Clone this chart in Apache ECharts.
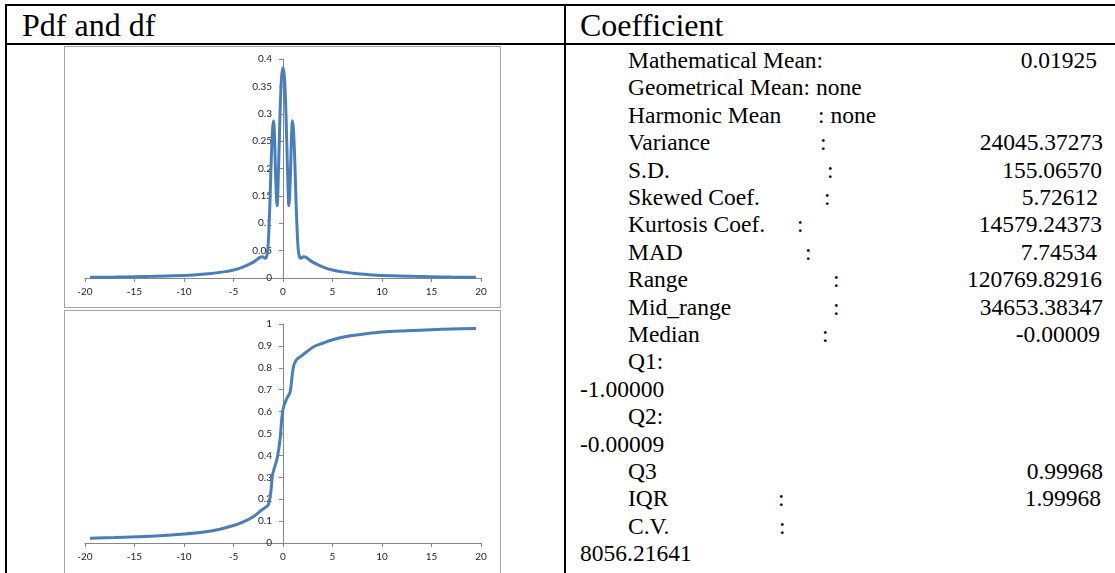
<!DOCTYPE html>
<html lang="en">
<head>
<meta charset="UTF-8">
<title>Pdf and df</title>
<script src="https://cdn.jsdelivr.net/npm/echarts@6/dist/echarts.min.js"></script>
<style>
  html, body { margin: 0; padding: 0; background: #fff; }
  body { width: 1115px; height: 573px; position: relative; overflow: hidden;
         font-family: "Liberation Serif", "Times New Roman", serif; color: #000; }
  .ln { position: absolute; background: #000; }
  .frame { position: absolute; border: 1px solid #a6a6a6; box-sizing: border-box; }
  .head { position: absolute; font-size: 32px; line-height: 36px; top: 7px; }
  .txt { position: absolute; font-size: 23.5px; line-height: 28px; white-space: pre; }
  .val { position: absolute; font-size: 23.5px; line-height: 28px; white-space: pre; text-align: right; }
  #main { position: absolute; left: 64px; top: 46px; width: 437px; height: 527px; }
</style>
</head>
<body>
<div class="ln" style="left:5px;top:4px;width:1110px;height:2px"></div>
<div class="ln" style="left:5px;top:43px;width:1110px;height:2px"></div>
<div class="ln" style="left:5px;top:4px;width:2px;height:569px"></div>
<div class="ln" style="left:564px;top:4px;width:2px;height:569px"></div>

<div class="head" style="left:22px">Pdf and df</div>
<div class="head" style="left:580px">Coefficient</div>

<div class="frame" style="left:64px;top:46px;width:437px;height:262px"></div>
<div class="frame" style="left:64px;top:310px;width:437px;height:270px"></div>
<div id="main"></div>
<div id="stats"></div>

<script>
// density (pdf)
var pdfX = [-19.5, -17, -15, -13, -11, -9, -7.5, -6, -5, -4.2, -3.5, -3, -2.6, -2.3, -2.05, -1.85, -1.7, -1.55, -1.42, -1.3, -1.18, -1.06, -0.96, -0.86, -0.75, -0.6, -0.45, -0.3, -0.15, 0,
            0.15, 0.3, 0.45, 0.6, 0.75, 0.86, 0.96, 1.06, 1.18, 1.3, 1.42, 1.55, 1.7, 1.85, 2.05, 2.3, 2.6, 3, 3.5, 4.2, 5, 6, 7.5, 9, 11, 13, 15, 17, 19.5];
var pdfY = [0.0012, 0.0017, 0.0023, 0.003, 0.004, 0.0057, 0.0078, 0.0112, 0.0145, 0.019, 0.0245, 0.029, 0.034, 0.038, 0.039, 0.036, 0.037, 0.05, 0.09, 0.15, 0.22, 0.27, 0.287, 0.26, 0.19, 0.132, 0.2, 0.3, 0.365, 0.384,
            0.365, 0.3, 0.2, 0.132, 0.19, 0.26, 0.287, 0.27, 0.22, 0.15, 0.09, 0.05, 0.037, 0.036, 0.039, 0.038, 0.034, 0.029, 0.0245, 0.019, 0.0145, 0.0112, 0.0078, 0.0057, 0.004, 0.003, 0.0023, 0.0017, 0.0012];

// distribution function (df)
var cdfX = [-19.5, -17, -15, -12.5, -10, -8, -6.5, -5, -4, -3, -2.3, -1.7, -1.47, -1.23, -1.06, -0.79, -0.56, -0.29, -0.12, 0.05, 0.39, 0.72, 0.89, 1.06, 1.33, 1.8, 2.4, 3.1, 4, 5, 6.5, 8, 10, 12.5, 15, 17, 19.5];
var cdfY = [0.022, 0.025, 0.028, 0.033, 0.041, 0.05, 0.062, 0.08, 0.097, 0.12, 0.145, 0.165, 0.175, 0.233, 0.31, 0.355, 0.393, 0.477, 0.57, 0.62, 0.66, 0.69, 0.75, 0.805, 0.835, 0.852, 0.873, 0.896, 0.912, 0.928, 0.944, 0.953, 0.963, 0.969, 0.974, 0.977, 0.98];

// coefficient column
var statLabels = ['Mathematical Mean:', 'Geometrical Mean: none', 'Harmonic Mean', 'Variance', 'S.D.', 'Skewed Coef.', 'Kurtosis Coef.', 'MAD', 'Range', 'Mid_range', 'Median',
                  'Q1:', '-1.00000', 'Q2:', '-0.00009', 'Q3', 'IQR', 'C.V.', '8056.21641'];
var statColons = ['', '', ': none', ':', ':', ':', ':', ':', ':', ':', ':', '', '', '', '', '', ':', ':', ''];
var statValues = ['0.01925', '', '', '24045.37273', '155.06570', '5.72612', '14579.24373', '7.74534', '120769.82916', '34653.38347', '-0.00009',
                  '', '', '', '', '0.99968', '1.99968', '', ''];

var colonX = [0, 0, 818, 820, 827, 824, 797, 805, 833, 833, 822, 0, 0, 0, 0, 0, 778, 779, 0];
var valRight = [1097, 0, 0, 1103, 1102, 1098, 1102, 1097, 1102, 1103, 1100, 0, 0, 0, 0, 1103, 1101, 0, 0];

var stats = document.getElementById('stats');
var rowStep = 27.4;
statLabels.forEach(function (lab, i) {
    var top = 60 + i * rowStep - 14;
    var flush = (lab.charAt(0) === '-' || /^\d/.test(lab));
    var d = document.createElement('div');
    d.className = 'txt';
    d.style.left = (flush ? 580 : 628) + 'px';
    d.style.top = top + 'px';
    d.textContent = lab;
    stats.appendChild(d);
    if (statColons[i]) {
        var c = document.createElement('div');
        c.className = 'txt';
        c.style.left = colonX[i] + 'px';
        c.style.top = top + 'px';
        c.textContent = statColons[i];
        stats.appendChild(c);
    }
    if (statValues[i]) {
        var v = document.createElement('div');
        v.className = 'val';
        v.style.right = (1115 - valRight[i]) + 'px';
        v.style.top = top + 'px';
        v.textContent = statValues[i];
        stats.appendChild(v);
    }
});

function zip(xs, ys) {
    return xs.map(function (x, i) { return [x, ys[i]]; });
}

var axisGrey = '#868686';
var labelStyle = { color: '#262626', fontFamily: 'Lato', fontSize: 10 };
var gridW = 396;

function xAx(idx) {
    return {
        type: 'value', gridIndex: idx, min: -20, max: 20, interval: 5,
        axisLine: { lineStyle: { color: axisGrey, width: 1 } },
        axisTick: { length: 4, lineStyle: { color: axisGrey } },
        axisLabel: Object.assign({ margin: 9 }, labelStyle),
        splitLine: { show: false }
    };
}
// y axis sits at x = 0, i.e. the middle of the -20..20 range
function yAx(idx, max, step) {
    return {
        type: 'value', gridIndex: idx, min: 0, max: max, interval: step,
        offset: -gridW / 2,
        axisLine: { show: true, onZero: false, lineStyle: { color: axisGrey, width: 1 } },
        axisTick: { show: true, length: 4, lineStyle: { color: axisGrey } },
        axisLabel: Object.assign({ margin: 11 }, labelStyle),
        splitLine: { show: false }
    };
}

var chart = echarts.init(document.getElementById('main'));
chart.setOption({
    animation: false,
    grid: [
        { left: 21, top: 13, width: gridW, height: 219, outerBoundsMode: 'none' },
        { left: 21, top: 278, width: gridW, height: 219, outerBoundsMode: 'none' }
    ],
    xAxis: [xAx(0), xAx(1)],
    yAxis: [yAx(0, 0.4, 0.05), yAx(1, 1, 0.1)],
    series: [
        {
            name: 'pdf', type: 'line', xAxisIndex: 0, yAxisIndex: 0,
            smooth: 0.35, showSymbol: false,
            lineStyle: { color: '#4a7ebb', width: 3 },
            data: zip(pdfX, pdfY)
        },
        {
            name: 'df', type: 'line', xAxisIndex: 1, yAxisIndex: 1,
            smooth: 0.35, showSymbol: false,
            lineStyle: { color: '#4a7ebb', width: 3 },
            data: zip(cdfX, cdfY)
        }
    ]
});
</script>
</body>
</html>
